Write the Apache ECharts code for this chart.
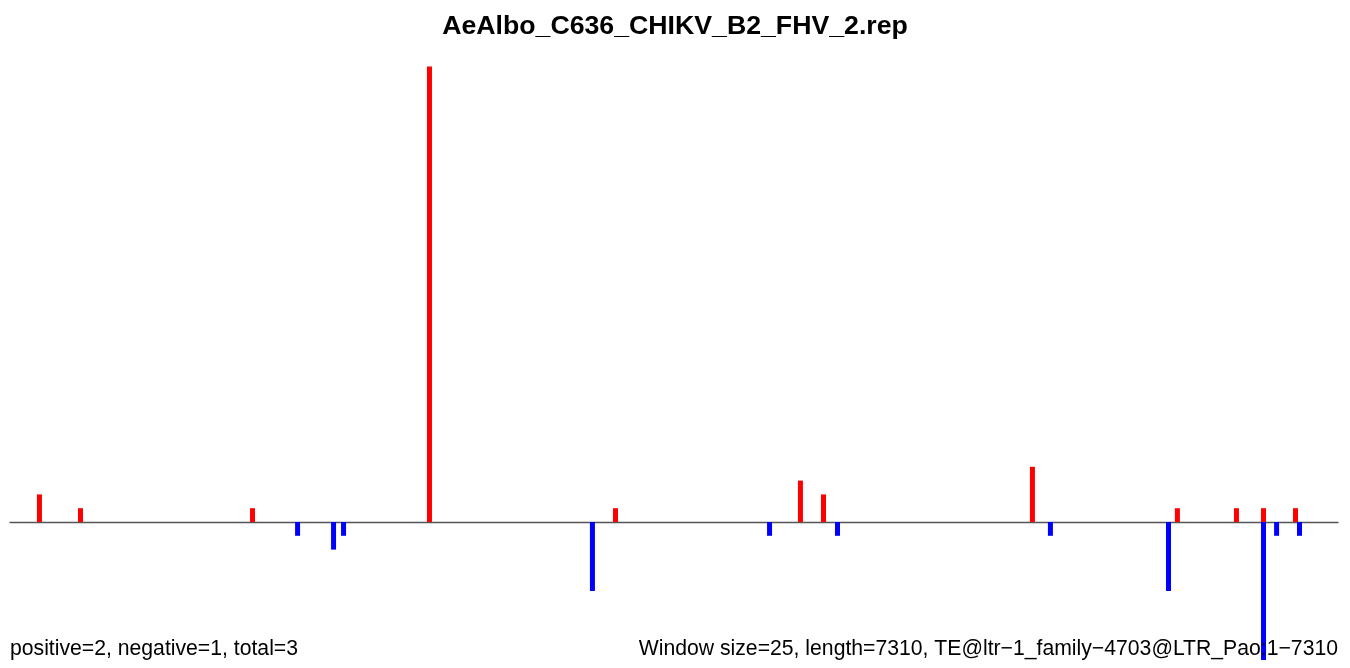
<!DOCTYPE html>
<html>
<head>
<meta charset="utf-8">
<script src="https://cdn.jsdelivr.net/npm/echarts@6/dist/echarts.min.js"></script>
<style>html,body{margin:0;padding:0;background:#fff}#c{width:1350px;height:668px}</style>
</head>
<body>
<div id="c"></div>
<script>
var titleText = "AeAlbo_C636_CHIKV_B2_FHV_2.rep";
var leftNote = "positive=2, negative=1, total=3";
var rightNote = "Window size=25, length=7310, TE@ltr\u22121_family\u22124703@LTR_Pao:1\u22127310";
var seqLength = 7310;
// positive strand (position in bp, count)
var posX = [162, 388, 1335, 2309, 3333, 4351, 4478, 5628, 6426, 6751, 6900, 7076];
var posY = [2, 1, 1, 33, 1, 3, 2, 4, 1, 1, 1, 1];
// negative strand (position in bp, count)
var negX = [1583, 1781, 1836, 3206, 4181, 4555, 5727, 6377, 6900, 6972, 7098];
var negY = [-1, -2, -1, -5, -1, -1, -1, -5, -10, -1, -1];

function pairs(xs, ys){ return xs.map(function(x,i){ return [x, ys[i]]; }); }

var chart = echarts.init(document.getElementById('c'), null, {renderer:'canvas'});
chart.setOption({
  animation: false,
  backgroundColor: '#ffffff',
  grid: {left: 10, right: 12, top: 39, bottom: 8, containLabel: false},
  xAxis: {
    type: 'value', min: 0, max: seqLength,
    axisLine: {show: true, onZero: true, lineStyle: {color: '#555555', width: 1.3}},
    axisTick: {show: false}, axisLabel: {show: false}, splitLine: {show: false}
  },
  yAxis: {
    type: 'value', min: -10, max: 35,
    axisLine: {show: false}, axisTick: {show: false}, axisLabel: {show: false}, splitLine: {show: false}
  },
  series: [
    {type: 'bar', data: pairs(posX, posY), barWidth: 5, barGap: '-100%', itemStyle: {color: '#ff0000'}, z: 3},
    {type: 'bar', data: pairs(negX, negY), barWidth: 5, barGap: '-100%', itemStyle: {color: '#0000ff'}, z: 3}
  ],
  graphic: [
    {type: 'text', left: 'center', top: 13, style: {text: titleText, font: 'bold 26.7px "Liberation Sans", Arial, sans-serif', fill: '#000'}},
    {type: 'text', left: 10, top: 639, style: {text: leftNote, font: '21.2px "Liberation Sans", Arial, sans-serif', fill: '#000'}, z: 10},
    {type: 'text', right: 12, top: 639, style: {text: rightNote, font: '21.2px "Liberation Sans", Arial, sans-serif', fill: '#000'}, z: 10}
  ]
});
</script>
</body>
</html>
